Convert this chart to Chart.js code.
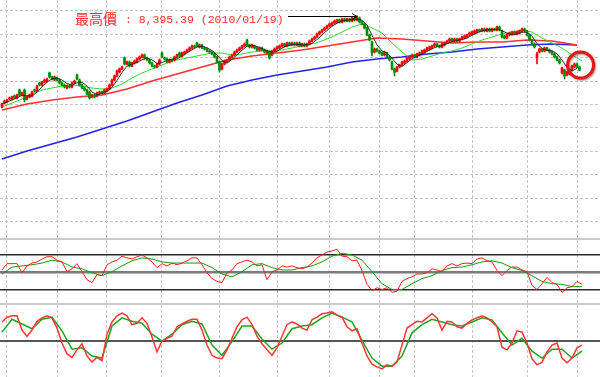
<!DOCTYPE html>
<html>
<head>
<meta charset="utf-8">
<script src="https://cdn.jsdelivr.net/npm/chart.js@4.4.1/dist/chart.umd.min.js"></script>
<style>
  body { margin: 0; background: #fff; width: 600px; height: 377px; overflow: hidden; position: relative; }
  canvas { position: absolute; left: 0; }
  .sep { position: absolute; left: 0; width: 600px; height: 2px; background: #cccccc; }
</style>
</head>
<body>
<canvas id="main" width="600" height="238" style="top:0px"></canvas>
<div class="sep" style="top:238px"></div>
<canvas id="mid" width="600" height="63" style="top:240px"></canvas>
<div class="sep" style="top:303px"></div>
<canvas id="low" width="600" height="72" style="top:305px"></canvas>
<script>
// 日K 2009/06 ~ 2010/06, one value per trading day
const openP = [
  6448,6534,6555,6620,6620,6684,6641,6812,6705,6812, 6620,6662,6684,6812,6790,6961,6919,6983,7004,7175,
  7090,7025,7068,7025,6961,6919,6854,6897,6876,6961, 7132,7025,6919,6854,6812,6769,6662,6705,6684,6748,
  6769,6748,6790,6833,6919,7025,7111,7196,7260,7496, 7367,7410,7325,7389,7410,7474,7517,7560,7496,7453,
  7389,7325,7303,7367,7602,7496,7474,7410,7453,7453, 7517,7602,7538,7581,7624,7667,7709,7752,7816,7731,
  7773,7709,7688,7645,7624,7581,7517,7410,7260,7367, 7410,7453,7517,7560,7624,7667,7709,7752,7880,7773,
  7731,7752,7709,7667,7709,7667,7602,7624,7560,7645, 7688,7709,7752,7795,7752,7816,7773,7816,7773,7816,
  7752,7795,7752,7795,7859,7902,7944,8008,8051,8094, 8137,8179,8201,8243,8265,8308,8265,8329,8286,8329,
  8286,8350,8308,8350,8265,8222,8137,7987,7837,7624, 7688,7645,7602,7560,7602,7517,7410,7260,7218,7303,
  7346,7389,7431,7474,7517,7560,7517,7560,7602,7624, 7667,7688,7709,7752,7795,7752,7731,7773,7816,7859,
  7902,7859,7902,7859,7902,7923,7944,7987,8008,8030, 8051,8094,8073,8115,8073,8115,8073,8115,8094,8158,
  8073,7966,7923,7987,8008,8051,8008,8030,8073,8115, 8073,7987,7880,7795,7496,7624,7688,7645,7709,7667,
  7624,7581,7517,7453,7175,7239,7132,7196,7239,7303, 7367,7303
];
const highP = [
  6534,6598,6620,6662,6684,6705,6726,6833,6769,6833, 6684,6726,6790,6833,6919,6983,7004,7047,7068,7196,
  7111,7111,7090,7047,6983,6940,6919,6919,6983,7025, 7154,7047,6940,6876,6833,6790,6726,6726,6769,6790,
  6790,6833,6854,6940,7047,7132,7239,7282,7325,7517, 7431,7431,7410,7453,7496,7538,7581,7581,7517,7474,
  7410,7346,7389,7474,7624,7517,7496,7474,7474,7538, 7581,7624,7624,7645,7688,7731,7773,7773,7837,7795,
  7795,7731,7709,7667,7645,7602,7538,7431,7389,7453, 7474,7538,7581,7645,7688,7731,7773,7816,7902,7795,
  7795,7773,7731,7731,7731,7688,7667,7645,7667,7709, 7752,7773,7816,7816,7837,7837,7837,7837,7837,7837,
  7816,7816,7816,7880,7923,7966,8030,8073,8115,8158, 8201,8243,8265,8308,8329,8329,8350,8350,8350,8350,
  8372,8372,8395.39,8372,8286,8243,8158,8008,7859,7709, 7709,7667,7624,7645,7624,7538,7431,7282,7325,7367,
  7431,7453,7517,7538,7581,7581,7602,7624,7667,7688, 7731,7752,7773,7816,7816,7773,7816,7837,7880,7923,
  7923,7923,7923,7923,7966,7987,8008,8051,8073,8094, 8115,8115,8137,8137,8137,8137,8137,8137,8179,8179,
  8094,7987,8008,8051,8073,8073,8073,8094,8137,8137, 8094,8008,7902,7816,7624,7709,7709,7731,7731,7688,
  7645,7602,7538,7474,7303,7260,7218,7218,7346,7389, 7389,7325
];
const lowP = [
  6427,6513,6534,6598,6598,6620,6620,6684,6684,6555, 6598,6641,6662,6769,6769,6897,6897,6961,6983,7068,
  7025,7004,7004,6940,6897,6854,6833,6854,6854,6940, 7025,6897,6833,6790,6705,6620,6641,6641,6662,6726,
  6726,6726,6769,6812,6897,7004,7090,7175,7239,7346, 7346,7303,7303,7367,7389,7453,7496,7474,7431,7367,
  7303,7282,7282,7346,7496,7453,7389,7389,7410,7431, 7496,7517,7517,7560,7602,7645,7688,7709,7731,7709,
  7688,7667,7624,7602,7560,7496,7389,7196,7239,7346, 7389,7431,7496,7538,7602,7645,7688,7731,7752,7709,
  7709,7688,7645,7645,7645,7602,7581,7474,7538,7624, 7667,7688,7731,7731,7731,7752,7752,7752,7752,7731,
  7731,7731,7731,7773,7837,7880,7923,7987,8030,8073, 8115,8158,8179,8222,8243,8243,8243,8265,8265,8265,
  8265,8286,8286,8243,8201,8115,7966,7859,7538,7602, 7624,7581,7538,7538,7496,7431,7239,7111,7196,7282,
  7325,7367,7410,7453,7496,7496,7496,7538,7581,7602, 7645,7667,7688,7731,7731,7709,7709,7752,7795,7837,
  7837,7837,7837,7837,7880,7902,7923,7966,7987,8008, 8030,8051,8051,8051,8051,8051,8051,8073,8073,8073,
  7923,7902,7902,7966,7987,7987,7987,8008,8051,8051, 7966,7859,7773,7709,7367,7602,7624,7624,7645,7602,
  7560,7496,7431,7367,7154,7047,7111,7132,7218,7282, 7282,7218
];
const closeP = [
  6513,6577,6598,6641,6662,6641,6705,6705,6748,6598, 6662,6705,6769,6790,6897,6919,6983,7025,7047,7090,
  7047,7090,7025,6961,6919,6876,6897,6876,6961,7004, 7047,6919,6854,6812,6726,6641,6705,6662,6748,6769,
  6748,6812,6833,6919,7025,7111,7218,7260,7303,7367, 7410,7325,7389,7431,7474,7517,7560,7496,7453,7389,
  7325,7303,7367,7453,7517,7474,7410,7453,7431,7517, 7560,7538,7602,7624,7667,7709,7752,7731,7752,7773,
  7709,7688,7645,7624,7581,7517,7410,7239,7367,7431, 7453,7517,7560,7624,7667,7709,7752,7795,7773,7731,
  7773,7709,7667,7709,7667,7624,7645,7496,7645,7688, 7731,7752,7795,7752,7816,7773,7816,7773,7816,7752,
  7795,7752,7795,7859,7902,7944,8008,8051,8094,8137, 8179,8222,8243,8286,8308,8265,8329,8286,8329,8286,
  8350,8308,8372,8265,8222,8137,7987,7880,7602,7688, 7645,7602,7560,7624,7517,7453,7260,7196,7303,7346,
  7410,7431,7496,7517,7560,7517,7581,7602,7645,7667, 7709,7731,7752,7795,7752,7731,7795,7816,7859,7902,
  7859,7902,7859,7902,7944,7966,7987,8030,8051,8073, 8094,8073,8115,8073,8115,8073,8115,8094,8158,8094,
  7944,7923,7987,8030,8051,8008,8051,8073,8115,8073, 7987,7880,7795,7731,7581,7688,7645,7709,7667,7624,
  7581,7517,7453,7389,7282,7111,7196,7154,7325,7367, 7303,7239
];

// moving averages, read every 2 / 4 / 10 / 10 bars
const ma5 = [
  6513,6555,6598,6649,6696,6688,6683,6765,6880,6978, 7047,7072,7025,6948,6914,6966,6974,6897,6769,6713,
  6735,6786,6867,7017,7188,7320,7367,7397,7457,7496, 7457,7380,7397,7449,7470,7474,7538,7607,7671,7731,
  7748,7714,7654,7564,7440,7389,7466,7564,7662,7748, 7769,7739,7696,7654,7615,7637,7709,7756,7782,7786,
  7778,7778,7808,7889,7987,8085,8171,8239,8286,8303, 8316,8325,8303,8196,7983,7778,7645,7598,7491,7363,
  7316,7397,7478,7534,7581,7637,7692,7739,7769,7799, 7846,7872,7889,7923,7979,8034,8077,8098,8102,8111,
  8081,8026,7987,8013,8047,8047,7966,7799,7701,7658, 7654,7585,7453,7295,7218,7273
];
const ma20 = [
  6448,6534,6620,6726,6812,6854,6897,6919,6897,6854, 6833,6854,6940,7068,7175,7260,7346,7431,7474,7517,
  7560,7602,7602,7560,7581,7624,7645,7645,7667,7709, 7752,7795,7859,7944,8051,8158,8222,8137,8030,7816,
  7624,7453,7474,7538,7602,7645,7709,7795,7880,7944, 8008,8051,8094,8051,7923,7816,7709,7560,7431
];
const ma60 = [
  6384,6513,6598,6662,6705,6833,7004,7154,7303,7453, 7538,7602,7667,7752,7837,7923,7902,7859,7816,7837,
  7837,7880,7859,7773
];
const ma240 = [
  5337,5508,5657,5809,5978,6149,6342,6534,6705,6897, 7025,7132,7218,7303,7410,7474,7517,7581,7624,7688,
  7731,7773,7795,7773
];

// oscillators (0-100)
const rsiFast = [
  54,65,65,65,49,61,66,68,73,77, 77,71,68,51,56,65,51,37,32,46, 44,63,68,71,78,75,73,77,80,75,
  68,58,65,61,66,63,66,70,75,75, 63,49,39,34,32,49,54,65,68,71, 68,61,63,37,51,54,61,59,61,58,
  56,59,66,75,80,85,87,90,78,77, 70,71,53,29,18,23,20,23,15,17, 34,39,42,47,47,49,56,54,51,61,
  65,61,65,66,65,73,75,70,68,53, 44,53,59,59,54,51,27,20,30,41, 32,29,15,23,25,34,29
];
const rsiSlow = [
  47,59,61,63,66,71,68,59,56,49, 44,51,61,70,75,73,68,66,66,66, 66,58,47,42,51,63,65,58,54,54,
  58,61,68,78,83,80,71,51,30,20, 20,30,39,44,53,58,59,63,68,70, 66,58,53,44,34,30,29,25,25
];
const kdK = [
  78,85,87,87,66,57,66,79,84,87, 84,69,47,31,26,37,46,28,19,26, 21,60,78,87,91,87,74,76,84,76,
  56,34,50,54,57,71,75,79,82,82, 66,44,29,25,24,37,54,71,81,85, 74,57,46,37,29,40,57,74,78,75,
  69,66,81,85,90,91,93,88,85,71, 65,68,47,28,16,12,9,15,13,19, 44,69,74,79,78,84,90,84,66,79,
  78,71,69,76,81,84,87,84,78,71, 41,37,47,65,63,47,24,15,19,34, 44,47,25,18,25,40,44
];
const kdD = [
  63,82,75,68,82,85,65,38,40,28, 25,72,84,79,76,60,50,60,74,79, 75,44,29,49,72,72,53,38,47,68,
  72,74,84,91,85,78,51,25,13,13, 28,62,74,82,78,74,72,78,84,81, 62,44,54,35,25,38,38,25,35
];

const monthStarts = [2, 22, 42, 64, 87, 110, 131, 151, 165, 188, 210, 230];
const monthNames = ["7月", "8月", "9月", "10月", "11月", "12月", "1月", "2月", "3月", "4月", "5月", "6月"];
const priceTicks = [4000, 4500, 5000, 5500, 6000, 6500, 7000, 7500, 8000, 8500];
const peakDate = "2010/01/19";

function pts(arr, step) {
  return arr.map((v, k) => ({ x: k * step, y: v }));
}

function xAxis() {
  return {
    type: "linear",
    min: -0.8,
    max: 239.2,
    offset: false,
    afterBuildTicks: (s) => { s.ticks = monthStarts.map((v) => ({ value: v })); },
    ticks: { display: false },
    grid: { color: "#c4c4c4", lineWidth: 1, drawTicks: false, offset: false },
    border: { display: false, dash: [3, 2] },
  };
}

function lineSet(data, color, width, order) {
  return {
    type: "line",
    data: data,
    borderColor: color,
    borderWidth: width,
    pointRadius: 0,
    tension: 0,
    order: order,
  };
}

const baseOpts = {
  responsive: false,
  devicePixelRatio: 1,
  animation: false,
  events: [],
  layout: { padding: 0 },
  plugins: { legend: { display: false }, tooltip: { enabled: false } },
};

const candleColor = closeP.map((c, i) => (c >= openP[i] ? "#ff0000" : "#008c00"));

const peakMarker = {
  id: "peakMarker",
  afterDatasetsDraw(chart) {
    const { ctx, scales: { x, y } } = chart;
    const top = Math.max(...highP);
    const iTop = highP.indexOf(top);
    const px = x.getPixelForValue(iTop);
    const py = Math.round(y.getPixelForValue(top)) + 0.5;
    ctx.save();
    ctx.fillStyle = "#ff2a2a";
    ctx.font = "14px 'Noto Sans CJK TC'";
    ctx.fillText("最高價", 75, 24);
    ctx.font = "11.5px 'Liberation Mono'";
    ctx.fillText(" : " + top.toLocaleString("en-US", { minimumFractionDigits: 2 }) + " (" + peakDate + ")", 118, 23);
    ctx.strokeStyle = "#000";
    ctx.lineWidth = 1;
    ctx.beginPath();
    ctx.moveTo(288, py);
    ctx.lineTo(px, py);
    ctx.moveTo(px - 5, py - 3);
    ctx.lineTo(px, py);
    ctx.lineTo(px - 5, py + 3);
    ctx.stroke();

    // last bars circled
    const last = closeP.length - 1;
    const cx = x.getPixelForValue(last) + 1;
    const cy = y.getPixelForValue(closeP[last]) - 5;
    ctx.strokeStyle = "#e81414";
    ctx.lineWidth = 3;
    ctx.shadowColor = "rgba(90,0,0,0.55)";
    ctx.shadowBlur = 2;
    ctx.shadowOffsetX = 1;
    ctx.shadowOffsetY = 1;
    ctx.beginPath();
    ctx.arc(cx, cy, 13, 0, Math.PI * 2);
    ctx.stroke();
    ctx.restore();
  },
};

new Chart(document.getElementById("main"), {
  type: "bar",
  data: {
    datasets: [
      {
        label: "K",
        data: closeP.map((c, i) => ({ x: i, y: [openP[i], c] })),
        backgroundColor: candleColor,
        barThickness: 2,
        grouped: false,
        borderWidth: 0,
        order: 1,
      },
      {
        label: "HL",
        data: closeP.map((c, i) => ({ x: i, y: [lowP[i], highP[i]] })),
        backgroundColor: candleColor,
        barThickness: 1,
        grouped: false,
        borderWidth: 0,
        order: 2,
      },
      lineSet(pts(ma5, 2), "#2a2a2a", 1, 0),
      lineSet(pts(ma20, 4), "#2fd82f", 1, 3),
      lineSet(pts(ma60, 10), "#ff3030", 1.5, 4),
      lineSet(pts(ma240, 10), "#2222ee", 1.5, 5),
    ],
  },
  options: {
    ...baseOpts,
    scales: {
      x: xAxis(),
      y: {
        min: 3649,
        max: 8735,
        afterBuildTicks: (s) => { s.ticks = priceTicks.map((v) => ({ value: v })); },
        ticks: { display: false },
        grid: { color: "#c4c4c4", lineWidth: 1, drawTicks: false },
        border: { display: false, dash: [3, 2] },
      },
    },
  },
  plugins: [peakMarker],
});

new Chart(document.getElementById("mid"), {
  type: "line",
  data: {
    datasets: [
      lineSet(pts(rsiFast, 2), "#ff1e1e", 1, 0),
      lineSet(pts(rsiSlow, 4), "#139a13", 1, 1),
    ],
  },
  options: {
    ...baseOpts,
    scales: {
      x: xAxis(),
      y: {
        min: -3.5,
        max: 106.1,
        afterBuildTicks: (s) => { s.ticks = [20, 50, 80].map((v) => ({ value: v })); },
        ticks: { display: false },
        grid: {
          drawTicks: false,
          color: (c) => (c.tick && c.tick.value === 50 ? "#7a7a7a" : "#2a2a2a"),
          lineWidth: (c) => (c.tick && c.tick.value === 50 ? 2.5 : 1.5),
        },
        border: { display: false },
      },
    },
  },
});

new Chart(document.getElementById("low"), {
  type: "line",
  data: {
    datasets: [
      lineSet(pts(kdK, 2), "#ff3535", 1.5, 0),
      lineSet(pts(kdD, 4), "#22a222", 1.5, 1),
    ],
  },
  options: {
    ...baseOpts,
    scales: {
      x: xAxis(),
      y: {
        min: -2.9,
        max: 102.9,
        afterBuildTicks: (s) => { s.ticks = [50].map((v) => ({ value: v })); },
        ticks: { display: false },
        grid: { drawTicks: false, color: "#555555", lineWidth: 2 },
        border: { display: false },
      },
    },
  },
});
</script>
</body>
</html>
